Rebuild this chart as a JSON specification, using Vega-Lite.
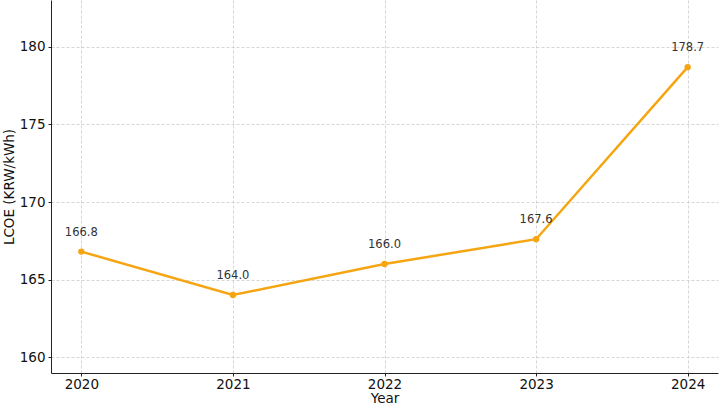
{
  "$schema": "https://vega.github.io/schema/vega-lite/v6.json",
  "autosize": "none",
  "width": 667,
  "height": 373,
  "padding": {"left": 51, "top": 0, "right": 4, "bottom": 33},
  "background": "white",
  "config": {
    "view": {"stroke": null},
    "font": "DejaVu Sans",
    "axis": {
      "labelFont": "DejaVu Sans",
      "titleFont": "DejaVu Sans",
      "labelFontSize": 13.5,
      "titleFontSize": 13.5,
      "labelColor": "#111",
      "titleColor": "#111",
      "titleFontWeight": "normal",
      "domainColor": "#222",
      "domainWidth": 1,
      "tickColor": "#222",
      "tickSize": 3,
      "gridColor": "#cccccc",
      "gridDash": [3, 2],
      "gridWidth": 0.8
    }
  },
  "data": {
    "values": [
      {"Year": 2020, "LCOE": 166.8},
      {"Year": 2021, "LCOE": 164.0},
      {"Year": 2022, "LCOE": 166.0},
      {"Year": 2023, "LCOE": 167.6},
      {"Year": 2024, "LCOE": 178.7}
    ]
  },
  "encoding": {
    "x": {
      "field": "Year",
      "type": "quantitative",
      "scale": {"domain": [2019.8, 2024.2], "nice": false, "zero": false},
      "axis": {"values": [2020, 2021, 2022, 2023, 2024], "format": "d", "title": "Year", "labelPadding": 1, "titlePadding": 1}
    },
    "y": {
      "field": "LCOE",
      "type": "quantitative",
      "scale": {"domain": [158.97, 183.03], "nice": false, "zero": false},
      "axis": {"values": [160, 165, 170, 175, 180], "title": "LCOE (KRW/kWh)", "labelPadding": 3, "titlePadding": 3}
    }
  },
  "layer": [
    {"mark": {"type": "line", "color": "#F5A511", "strokeWidth": 2.5}},
    {"mark": {"type": "point", "filled": true, "color": "#F5A511", "size": 40, "opacity": 1}},
    {
      "mark": {"type": "text", "dy": -19, "fontSize": 11.5, "color": "#333333", "align": "center"},
      "encoding": {"text": {"field": "LCOE", "type": "quantitative", "format": ".1f"}}
    }
  ]
}
